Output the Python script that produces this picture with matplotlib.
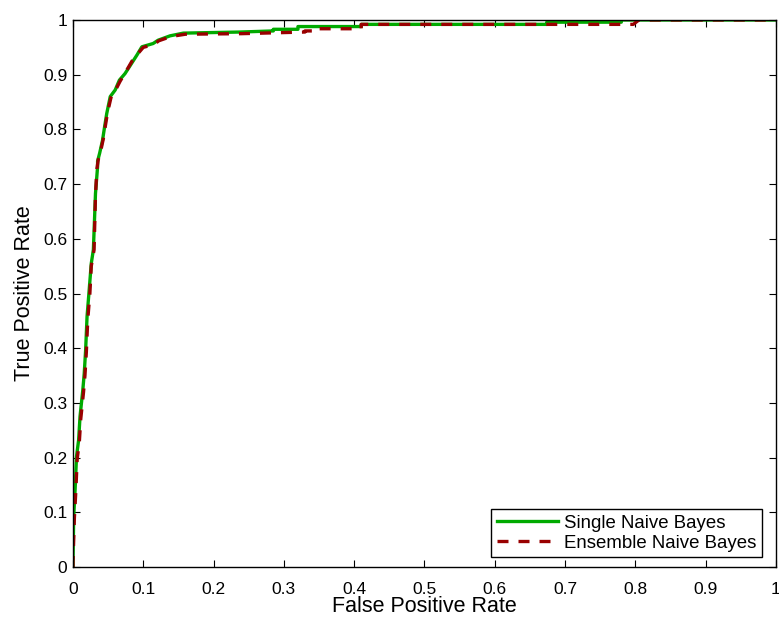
import matplotlib
matplotlib.use("Agg")
import matplotlib.pyplot as plt

plt.rcParams['font.family'] = ['Liberation Sans', 'DejaVu Sans']

# ROC curve points
single_fpr = [0.0, 0.0, 0.001, 0.003, 0.005, 0.008, 0.010, 0.014, 0.016, 0.018, 0.020,
              0.023, 0.026, 0.029, 0.032, 0.035, 0.035, 0.038, 0.042, 0.045, 0.048,
              0.053, 0.060, 0.066, 0.074, 0.083, 0.091, 0.098, 0.114, 0.121, 0.138,
              0.157, 0.238, 0.285, 0.285, 0.32, 0.32, 0.41, 0.41, 0.674, 0.674,
              0.78, 0.78, 1.0]
single_tpr = [0.0, 0.007, 0.092, 0.141, 0.202, 0.232, 0.275, 0.324, 0.354, 0.397, 0.458,
              0.506, 0.555, 0.58, 0.683, 0.732, 0.742, 0.757, 0.78, 0.805, 0.829,
              0.86, 0.872, 0.89, 0.902, 0.92, 0.936, 0.951, 0.957, 0.963, 0.971,
              0.976, 0.978, 0.98, 0.983, 0.983, 0.988, 0.988, 0.992, 0.992, 0.996,
              0.996, 1.0, 1.0]

ensemble_fpr = [0.0, 0.0, 0.002, 0.004, 0.006, 0.009, 0.011, 0.015, 0.017, 0.019, 0.021,
                0.024, 0.026, 0.030, 0.032, 0.034, 0.036, 0.039, 0.043, 0.046, 0.049,
                0.054, 0.061, 0.067, 0.075, 0.084, 0.092, 0.100, 0.115, 0.122, 0.140,
                0.160, 0.240, 0.33, 0.33, 0.347, 0.347, 0.41, 0.41, 0.797, 0.805, 1.0]
ensemble_tpr = [0.0, 0.010, 0.090, 0.138, 0.198, 0.228, 0.270, 0.320, 0.350, 0.393, 0.452,
                0.500, 0.550, 0.58, 0.68, 0.728, 0.745, 0.758, 0.782, 0.806, 0.830,
                0.858, 0.873, 0.888, 0.905, 0.925, 0.938, 0.950, 0.955, 0.962, 0.970,
                0.974, 0.975, 0.978, 0.980, 0.980, 0.984, 0.984, 0.992, 0.992, 1.0, 1.0]

ticks = [0, 0.1, 0.2, 0.3, 0.4, 0.5, 0.6, 0.7, 0.8, 0.9, 1]
tick_labels = ["0", "0.1", "0.2", "0.3", "0.4", "0.5", "0.6", "0.7", "0.8", "0.9", "1"]

fig = plt.figure(figsize=(7.79, 6.17), dpi=100)
ax = fig.add_axes([0.0937, 0.081, 0.9024, 0.8866])

ax.plot(single_fpr, single_tpr, color='#00aa00', linewidth=2.4, label='Single Naive Bayes')
ax.plot(ensemble_fpr, ensemble_tpr, color='#990000', linewidth=2.4, linestyle=(0, (3.3, 3)),
        label='Ensemble Naive Bayes')

ax.set_xlim(0, 1)
ax.set_ylim(0, 1)
ax.set_xticks(ticks)
ax.set_xticklabels(tick_labels)
ax.set_yticks(ticks)
ax.set_yticklabels(tick_labels)
ax.tick_params(direction='in', top=True, right=True, labelsize=12.5, length=5, width=0.8)
ax.tick_params(axis='x', pad=10.5)
ax.tick_params(axis='y', pad=4)
ax.set_xlabel('False Positive Rate', fontsize=15.5, labelpad=-0.5)
ax.set_ylabel('True Positive Rate', fontsize=15.5, labelpad=6)
for s in ax.spines.values():
    s.set_linewidth(1.0)

leg = ax.legend(loc='lower right', bbox_to_anchor=(0.980, 0.018), borderaxespad=0,
                fontsize=13.4, fancybox=False, framealpha=1, edgecolor='black',
                handlelength=3.3, handletextpad=0.3, borderpad=0.3, labelspacing=0.15)
leg.get_frame().set_linewidth(1.0)

plt.savefig('out.png', dpi=100)
